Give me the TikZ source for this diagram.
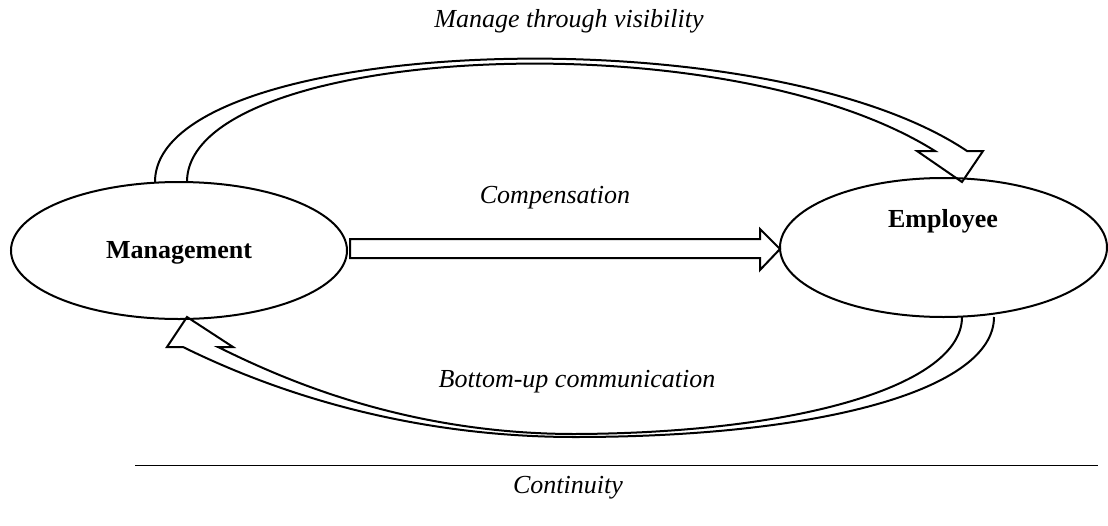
\documentclass[tikz,border=0pt]{standalone}
\usepackage{fontspec}
\setmainfont{Liberation Serif}
\usetikzlibrary{shapes.geometric}
\begin{document}
\begin{tikzpicture}[x=1pt,y=-1pt,
  line width=2pt, line join=miter,
  party/.style={draw, ellipse, inner sep=0pt},
  partylbl/.style={font=\fontsize{26}{30}\selectfont\bfseries, inner sep=0pt},
  lbl/.style={font=\fontsize{26}{30}\selectfont\itshape, inner sep=0pt},
  blockarrow/.style={draw, line join=miter}]
\useasboundingbox (0,0) rectangle (1108,525);
% parties
\node[party, minimum width=336pt, minimum height=137pt] (mgmt) at (179,250.5) {};
\node[party, minimum width=327pt, minimum height=139pt] (emp) at (943.5,247.5) {};
\node[partylbl] (mgmtlbl) at (179,253) {Management};
\node[partylbl] (emplbl) at (943,221) {Employee};
% labels
\node[lbl] (vis) at (569,21) {Manage through visibility};
\node[lbl] (comp) at (555,198) {Compensation};
\node[lbl] (bottom) at (577,382) {Bottom-up communication};
\node[lbl] (cont) at (568,488) {Continuity};
% top curved arrow
\coordinate (t0) at (155,182);
\coordinate (t1) at (187,182);
\coordinate (tn1) at (967,151);
\coordinate (tb1) at (983,151);
\coordinate (ttip) at (962,182);
\coordinate (tb2) at (917,151);
\coordinate (tn2) at (935,151);
\draw[blockarrow] (t0) .. controls (155,36) and (760,12) .. (tn1) -- (tb1) -- (ttip) -- (tb2) -- (tn2)
  .. controls (720,16) and (187,46) .. (t1);
% middle arrow
\coordinate (m0) at (350,239);
\coordinate (mtip) at (780,249);
\draw[blockarrow] (m0) -- (760,239) -- (760,229) -- (mtip) -- (760,270) -- (760,258) -- (350,258) -- cycle;
% bottom curved arrow
\coordinate (b0) at (994,317);
\coordinate (b1) at (962,317);
\coordinate (bn1) at (183,347);
\coordinate (bb1) at (167,347);
\coordinate (btip) at (187,317);
\coordinate (bb2) at (233,347);
\coordinate (bn2) at (218,347);
\draw[blockarrow] (b0) .. controls (994,390) and (820,437) .. (575,437)
  .. controls (380,437) and (240,375) .. (bn1) -- (bb1) -- (btip) -- (bb2) -- (bn2)
  .. controls (275,375) and (400,434) .. (575,434)
  .. controls (800,433) and (962,385) .. (b1);
% rule
\coordinate (r0) at (135,465);
\coordinate (r1) at (1098,465);
\draw[line width=1pt] (r0) -- (r1);
\end{tikzpicture}
\end{document}
